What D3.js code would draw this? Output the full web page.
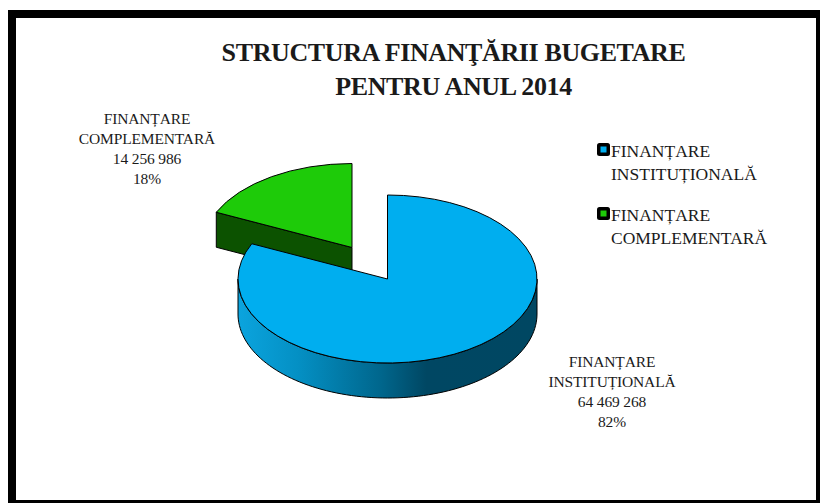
<!DOCTYPE html>
<html>
<head>
<meta charset="utf-8">
<script src="https://cdn.jsdelivr.net/npm/d3@7"></script>
<style>
  html, body { margin: 0; padding: 0; background: #fff; }
  svg { display: block; }
  text { font-family: "Liberation Serif", serif; fill: #1a1a1a; }
</style>
</head>
<body>
<div id="chart"></div>
<script>
// Budget data
const categories = ['FINANȚARE INSTITUȚIONALĂ', 'FINANȚARE COMPLEMENTARĂ'];
const values = [64469268, 14256986];
const valueLabels = ['64 469 268', '14 256 986'];
const percentLabels = ['82%', '18%'];
const titleLines = ['STRUCTURA FINANŢĂRII BUGETARE', 'PENTRU ANUL 2014'];

const width = 820;
const height = 503;

const svg = d3.select('#chart')
  .append('svg')
  .attr('width', width)
  .attr('height', height);

// Outer frame
svg.append('rect')
  .attr('x', 12).attr('y', 14)
  .attr('width', 808).attr('height', 490)
  .attr('fill', '#fff')
  .attr('stroke', '#000')
  .attr('stroke-width', 8);

// Title
svg.append('g').selectAll('text')
  .data(titleLines)
  .enter()
  .append('text')
  .attr('x', 453.5)
  .attr('y', (d, i) => 61 + i * 34)
  .attr('text-anchor', 'middle')
  .attr('font-size', 26)
  .attr('font-weight', 'bold')
  .attr('letter-spacing', -0.38)
  .text(d => d);

// Pie layout, starts at 12 o'clock and goes clockwise
const pie = d3.pie().sort(null);
const slices = pie(values);

const rx = 149.5;
const ry = 84;
const depth = 35;
const sliceCenters = [[387.5, 279], [352, 247.5]];
const topColors = ['#00aeef', '#1ecb09'];

const arc = d3.arc().innerRadius(0).outerRadius(rx);

const edgeX = a => rx * Math.sin(a);
const edgeY = a => -ry * Math.cos(a);

// Side wall shading of the blue slice, left to right
const wallGradient = svg.append('defs').append('linearGradient')
  .attr('id', 'blueWall')
  .attr('gradientUnits', 'userSpaceOnUse')
  .attr('x1', -rx).attr('x2', rx).attr('y1', 0).attr('y2', 0);
[[0, '#0ba4de'], [0.2, '#0490c4'], [0.48, '#00668c'], [0.63, '#004763'], [1, '#004762']]
  .forEach(s => wallGradient.append('stop').attr('offset', s[0]).attr('stop-color', s[1]));

// Green slice: cut wall then top face
const greenG = svg.append('g')
  .attr('transform', `translate(${sliceCenters[1][0]},${sliceCenters[1][1]})`);

const greenStart = slices[1].startAngle;
greenG.append('path')
  .attr('d', d3.line()([
    [0, 0],
    [edgeX(greenStart), edgeY(greenStart)],
    [edgeX(greenStart), edgeY(greenStart) + depth],
    [0, depth]
  ]) + 'Z')
  .attr('fill', '#0c5200')
  .attr('stroke', '#000')
  .attr('stroke-width', 1);

greenG.append('path')
  .attr('transform', `scale(1,${ry / rx})`)
  .attr('d', arc(slices[1]))
  .attr('fill', topColors[1])
  .attr('stroke', '#000')
  .attr('stroke-width', 1)
  .attr('vector-effect', 'non-scaling-stroke');

// Blue slice: curved outer wall then top face
const blueG = svg.append('g')
  .attr('transform', `translate(${sliceCenters[0][0]},${sliceCenters[0][1]})`);

const wallAngles = d3.range(Math.PI / 2, 3 * Math.PI / 2 + 0.001, Math.PI / 90);
const wallPoints = wallAngles.map(a => [edgeX(a), edgeY(a)])
  .concat(wallAngles.slice().reverse().map(a => [edgeX(a), edgeY(a) + depth]));

blueG.append('path')
  .attr('d', d3.line()(wallPoints) + 'Z')
  .attr('fill', 'url(#blueWall)')
  .attr('stroke', '#000')
  .attr('stroke-width', 1);

blueG.append('path')
  .attr('transform', `scale(1,${ry / rx})`)
  .attr('d', arc(slices[0]))
  .attr('fill', topColors[0])
  .attr('stroke', '#000')
  .attr('stroke-width', 1)
  .attr('vector-effect', 'non-scaling-stroke');

// Data labels
const labelLines = [
  ['FINANȚARE', 'INSTITUȚIONALĂ', valueLabels[0], percentLabels[0]],
  ['FINANȚARE', 'COMPLEMENTARĂ', valueLabels[1], percentLabels[1]]
];
const labelPos = [[612, 367], [147, 124]];

labelLines.forEach((lines, k) => {
  svg.append('g').selectAll('text')
    .data(lines)
    .enter()
    .append('text')
    .attr('x', labelPos[k][0])
    .attr('y', (d, i) => labelPos[k][1] + i * 20)
    .attr('text-anchor', 'middle')
    .attr('font-size', 15.5)
    .attr('letter-spacing', -0.15)
    .text(d => d);
});

// Legend
const legendY = [143, 207];
const legend = svg.append('g').selectAll('g')
  .data(categories)
  .enter()
  .append('g')
  .attr('transform', (d, i) => `translate(597,${legendY[i]})`);

legend.append('rect')
  .attr('width', 13).attr('height', 13).attr('rx', 2.5)
  .attr('fill', '#000');
legend.append('rect')
  .attr('x', 3.5).attr('y', 3.5)
  .attr('width', 6).attr('height', 6)
  .attr('fill', (d, i) => topColors[i]);

legend.each(function (d) {
  const g = d3.select(this);
  d.split(' ').forEach((w, i) => {
    g.append('text')
      .attr('x', 14)
      .attr('y', 14 + i * 23)
      .attr('font-size', 17.5)
      .text(w);
  });
});
</script>
</body>
</html>
